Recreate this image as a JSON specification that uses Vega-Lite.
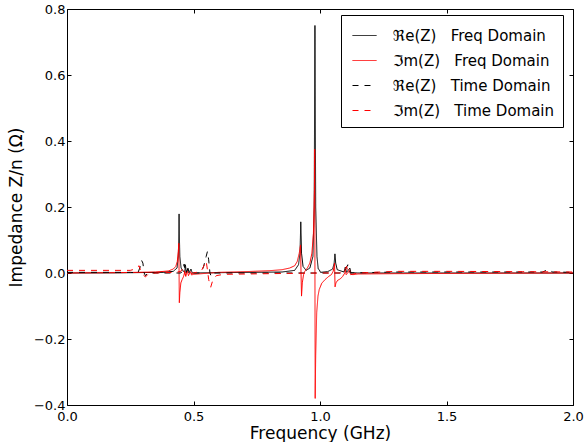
{
  "$schema": "https://vega.github.io/schema/vega-lite/v6.json",
  "width": 506,
  "height": 396,
  "autosize": {"type": "none"},
  "padding": {"left": 67, "top": 9, "right": 14, "bottom": 37},
  "background": "white",
  "config": {
    "view": {"stroke": "black", "strokeWidth": 1},
    "font": "DejaVu Sans",
    "axis": {"labelFont": "DejaVu Sans", "titleFont": "DejaVu Sans", "labelColor": "black", "titleColor": "black", "grid": false, "domain": false, "tickColor": "black", "tickSize": -4, "labelFontSize": 13, "titleFontSize": 17, "titleFontWeight": "normal", "labelFlush": false, "labelOverlap": false}
  },
  "datasets": {
    "ref": [
      {"f": 0, "v": 0.0, "s": "ReF"}, {"f": 0.2, "v": 0.0005, "s": "ReF"}, {"f": 0.38, "v": 0.002, "s": "ReF"},
      {"f": 0.42, "v": 0.005, "s": "ReF"}, {"f": 0.435, "v": 0.015, "s": "ReF"}, {"f": 0.44, "v": 0.05, "s": "ReF"},
      {"f": 0.442, "v": 0.12, "s": "ReF"}, {"f": 0.443, "v": 0.179, "s": "ReF"}, {"f": 0.444, "v": 0.12, "s": "ReF"},
      {"f": 0.446, "v": 0.05, "s": "ReF"}, {"f": 0.451, "v": 0.015, "s": "ReF"}, {"f": 0.46, "v": 0.005, "s": "ReF"},
      {"f": 0.466, "v": 0.004, "s": "ReF"}, {"f": 0.468, "v": 0.025, "s": "ReF"}, {"f": 0.472, "v": 0.0, "s": "ReF"},
      {"f": 0.478, "v": 0.015, "s": "ReF"}, {"f": 0.482, "v": 0.0, "s": "ReF"}, {"f": 0.49, "v": 0.012, "s": "ReF"},
      {"f": 0.495, "v": 0.0, "s": "ReF"}, {"f": 0.6, "v": 0.001, "s": "ReF"}, {"f": 0.85, "v": 0.003, "s": "ReF"},
      {"f": 0.9, "v": 0.008, "s": "ReF"}, {"f": 0.915, "v": 0.025, "s": "ReF"}, {"f": 0.921, "v": 0.06, "s": "ReF"},
      {"f": 0.924, "v": 0.155, "s": "ReF"}, {"f": 0.927, "v": 0.06, "s": "ReF"}, {"f": 0.933, "v": 0.02, "s": "ReF"},
      {"f": 0.945, "v": 0.008, "s": "ReF"}, {"f": 0.96, "v": 0.015, "s": "ReF"}, {"f": 0.972, "v": 0.05, "s": "ReF"},
      {"f": 0.977, "v": 0.2, "s": "ReF"}, {"f": 0.98, "v": 0.75, "s": "ReF"}, {"f": 0.983, "v": 0.2, "s": "ReF"},
      {"f": 0.988, "v": 0.05, "s": "ReF"}, {"f": 0.993, "v": 0.012, "s": "ReF"}, {"f": 0.997, "v": 0.01, "s": "ReF"},
      {"f": 1.002, "v": 0.002, "s": "ReF"}, {"f": 1.03, "v": 0.004, "s": "ReF"}, {"f": 1.05, "v": 0.012, "s": "ReF"},
      {"f": 1.056, "v": 0.03, "s": "ReF"}, {"f": 1.059, "v": 0.058, "s": "ReF"}, {"f": 1.062, "v": 0.03, "s": "ReF"},
      {"f": 1.068, "v": 0.01, "s": "ReF"}, {"f": 1.095, "v": 0.003, "s": "ReF"}, {"f": 1.1, "v": 0.018, "s": "ReF"},
      {"f": 1.105, "v": 0.002, "s": "ReF"}, {"f": 1.118, "v": 0.015, "s": "ReF"}, {"f": 1.122, "v": 0.001, "s": "ReF"},
      {"f": 1.15, "v": 0.0, "s": "ReF"}, {"f": 2.0, "v": 0.0, "s": "ReF"}
    ],
    "imf": [
      {"f": 0, "v": 0.0, "s": "ImF"}, {"f": 0.2, "v": 0.001, "s": "ImF"}, {"f": 0.35, "v": 0.003, "s": "ImF"},
      {"f": 0.4, "v": 0.006, "s": "ImF"}, {"f": 0.42, "v": 0.012, "s": "ImF"}, {"f": 0.43, "v": 0.02, "s": "ImF"},
      {"f": 0.436, "v": 0.035, "s": "ImF"}, {"f": 0.44, "v": 0.065, "s": "ImF"}, {"f": 0.442, "v": 0.09, "s": "ImF"},
      {"f": 0.443, "v": 0.0, "s": "ImF"}, {"f": 0.444, "v": -0.09, "s": "ImF"}, {"f": 0.446, "v": -0.06, "s": "ImF"},
      {"f": 0.45, "v": -0.03, "s": "ImF"}, {"f": 0.455, "v": -0.02, "s": "ImF"}, {"f": 0.46, "v": -0.012, "s": "ImF"},
      {"f": 0.466, "v": 0.004, "s": "ImF"}, {"f": 0.469, "v": -0.01, "s": "ImF"}, {"f": 0.476, "v": 0.006, "s": "ImF"},
      {"f": 0.48, "v": -0.008, "s": "ImF"}, {"f": 0.488, "v": 0.004, "s": "ImF"}, {"f": 0.492, "v": -0.006, "s": "ImF"},
      {"f": 0.5, "v": -0.004, "s": "ImF"}, {"f": 0.55, "v": -0.001, "s": "ImF"}, {"f": 0.6, "v": 0.002, "s": "ImF"},
      {"f": 0.7, "v": 0.004, "s": "ImF"}, {"f": 0.8, "v": 0.007, "s": "ImF"}, {"f": 0.85, "v": 0.01, "s": "ImF"},
      {"f": 0.88, "v": 0.015, "s": "ImF"}, {"f": 0.9, "v": 0.022, "s": "ImF"}, {"f": 0.91, "v": 0.035, "s": "ImF"},
      {"f": 0.918, "v": 0.06, "s": "ImF"}, {"f": 0.923, "v": 0.085, "s": "ImF"}, {"f": 0.925, "v": 0.0, "s": "ImF"},
      {"f": 0.927, "v": -0.07, "s": "ImF"}, {"f": 0.93, "v": -0.03, "s": "ImF"}, {"f": 0.935, "v": -0.005, "s": "ImF"},
      {"f": 0.94, "v": 0.005, "s": "ImF"}, {"f": 0.95, "v": 0.015, "s": "ImF"}, {"f": 0.96, "v": 0.03, "s": "ImF"},
      {"f": 0.968, "v": 0.06, "s": "ImF"}, {"f": 0.974, "v": 0.12, "s": "ImF"}, {"f": 0.978, "v": 0.25, "s": "ImF"},
      {"f": 0.979, "v": 0.375, "s": "ImF"}, {"f": 0.98, "v": 0.0, "s": "ImF"}, {"f": 0.981, "v": -0.38, "s": "ImF"},
      {"f": 0.983, "v": -0.25, "s": "ImF"}, {"f": 0.987, "v": -0.12, "s": "ImF"}, {"f": 0.992, "v": -0.07, "s": "ImF"},
      {"f": 0.997, "v": -0.05, "s": "ImF"}, {"f": 1.007, "v": -0.031, "s": "ImF"}, {"f": 1.02, "v": -0.02, "s": "ImF"},
      {"f": 1.035, "v": -0.01, "s": "ImF"}, {"f": 1.045, "v": -0.005, "s": "ImF"}, {"f": 1.052, "v": 0.005, "s": "ImF"},
      {"f": 1.056, "v": 0.02, "s": "ImF"}, {"f": 1.0575, "v": 0.03, "s": "ImF"}, {"f": 1.0595, "v": -0.042, "s": "ImF"},
      {"f": 1.063, "v": -0.03, "s": "ImF"}, {"f": 1.07, "v": -0.022, "s": "ImF"}, {"f": 1.08, "v": -0.018, "s": "ImF"},
      {"f": 1.09, "v": -0.01, "s": "ImF"}, {"f": 1.098, "v": 0.0, "s": "ImF"}, {"f": 1.1, "v": 0.012, "s": "ImF"},
      {"f": 1.103, "v": -0.005, "s": "ImF"}, {"f": 1.11, "v": 0.0, "s": "ImF"}, {"f": 1.117, "v": 0.01, "s": "ImF"},
      {"f": 1.12, "v": -0.003, "s": "ImF"}, {"f": 1.13, "v": -0.005, "s": "ImF"}, {"f": 1.15, "v": -0.003, "s": "ImF"},
      {"f": 1.3, "v": -0.002, "s": "ImF"}, {"f": 1.6, "v": -0.001, "s": "ImF"}, {"f": 2.0, "v": 0.0, "s": "ImF"}
    ],
    "ret": [
      {"f": 0, "v": 0.002, "s": "ReT"}, {"f": 0.25, "v": 0.002, "s": "ReT"}, {"f": 0.28, "v": 0.0, "s": "ReT"},
      {"f": 0.29, "v": 0.02, "s": "ReT"}, {"f": 0.295, "v": 0.038, "s": "ReT"}, {"f": 0.3, "v": 0.03, "s": "ReT"},
      {"f": 0.305, "v": 0.0, "s": "ReT"}, {"f": 0.31, "v": -0.008, "s": "ReT"}, {"f": 0.32, "v": 0.0, "s": "ReT"},
      {"f": 0.45, "v": 0.0, "s": "ReT"}, {"f": 0.46, "v": 0.01, "s": "ReT"}, {"f": 0.463, "v": 0.027, "s": "ReT"},
      {"f": 0.468, "v": 0.0, "s": "ReT"}, {"f": 0.478, "v": 0.012, "s": "ReT"}, {"f": 0.485, "v": 0.0, "s": "ReT"},
      {"f": 0.53, "v": 0.0, "s": "ReT"}, {"f": 0.54, "v": 0.02, "s": "ReT"}, {"f": 0.55, "v": 0.05, "s": "ReT"},
      {"f": 0.555, "v": 0.065, "s": "ReT"}, {"f": 0.56, "v": 0.04, "s": "ReT"}, {"f": 0.565, "v": 0.0, "s": "ReT"},
      {"f": 0.57, "v": -0.01, "s": "ReT"}, {"f": 0.58, "v": 0.0, "s": "ReT"}, {"f": 1.08, "v": 0.0, "s": "ReT"},
      {"f": 1.1, "v": 0.01, "s": "ReT"}, {"f": 1.11, "v": 0.025, "s": "ReT"}, {"f": 1.115, "v": 0.01, "s": "ReT"},
      {"f": 1.12, "v": 0.0, "s": "ReT"}, {"f": 1.3, "v": 0.003, "s": "ReT"}, {"f": 1.88, "v": 0.003, "s": "ReT"},
      {"f": 1.9, "v": 0.01, "s": "ReT"}, {"f": 1.92, "v": 0.003, "s": "ReT"}, {"f": 2.0, "v": 0.002, "s": "ReT"}
    ],
    "imt": [
      {"f": 0, "v": 0.008, "s": "ImT"}, {"f": 0.25, "v": 0.008, "s": "ImT"}, {"f": 0.27, "v": 0.012, "s": "ImT"},
      {"f": 0.285, "v": 0.022, "s": "ImT"}, {"f": 0.29, "v": 0.01, "s": "ImT"}, {"f": 0.3, "v": -0.005, "s": "ImT"},
      {"f": 0.31, "v": -0.012, "s": "ImT"}, {"f": 0.32, "v": -0.004, "s": "ImT"}, {"f": 0.35, "v": 0.0, "s": "ImT"},
      {"f": 0.43, "v": 0.002, "s": "ImT"}, {"f": 0.45, "v": 0.005, "s": "ImT"}, {"f": 0.46, "v": 0.018, "s": "ImT"},
      {"f": 0.465, "v": 0.0, "s": "ImT"}, {"f": 0.47, "v": -0.01, "s": "ImT"}, {"f": 0.48, "v": -0.003, "s": "ImT"},
      {"f": 0.5, "v": 0.0, "s": "ImT"}, {"f": 0.53, "v": 0.005, "s": "ImT"}, {"f": 0.54, "v": 0.02, "s": "ImT"},
      {"f": 0.55, "v": 0.036, "s": "ImT"}, {"f": 0.555, "v": 0.01, "s": "ImT"}, {"f": 0.56, "v": -0.02, "s": "ImT"},
      {"f": 0.568, "v": -0.043, "s": "ImT"}, {"f": 0.575, "v": -0.025, "s": "ImT"}, {"f": 0.59, "v": -0.008, "s": "ImT"},
      {"f": 0.62, "v": -0.004, "s": "ImT"}, {"f": 0.8, "v": -0.002, "s": "ImT"}, {"f": 1.0, "v": 0.0, "s": "ImT"},
      {"f": 1.08, "v": 0.0, "s": "ImT"}, {"f": 1.1, "v": 0.012, "s": "ImT"}, {"f": 1.105, "v": 0.02, "s": "ImT"},
      {"f": 1.11, "v": 0.005, "s": "ImT"}, {"f": 1.12, "v": -0.005, "s": "ImT"}, {"f": 1.15, "v": 0.0, "s": "ImT"},
      {"f": 1.3, "v": 0.005, "s": "ImT"}, {"f": 1.5, "v": 0.005, "s": "ImT"}, {"f": 1.8, "v": 0.004, "s": "ImT"},
      {"f": 2.0, "v": 0.003, "s": "ImT"}
    ]
  },
  "layer": [
    {
      "encoding": {
        "x": {"field": "f", "type": "quantitative", "scale": {"domain": [0, 2], "nice": false, "zero": false}, "axis": {"orient": "bottom", "title": "Frequency (GHz)", "values": [0, 0.5, 1, 1.5, 2], "format": ".1f", "labelPadding": 9, "titlePadding": 2}},
        "y": {"field": "v", "type": "quantitative", "scale": {"domain": [-0.4, 0.8], "nice": false, "zero": false}, "axis": {"orient": "left", "title": "Impedance Z/n (Ω)", "values": [-0.4, -0.2, 0, 0.2, 0.4, 0.6, 0.8], "format": ".1f", "labelPadding": 6, "titlePadding": 8}},
        "color": {"field": "s", "type": "nominal", "scale": {"domain": ["ReF", "ImF", "ReT", "ImT"], "range": ["black", "red", "black", "red"]},
          "legend": {"title": null, "orient": "none", "legendX": 274, "legendY": 6, "symbolType": "stroke", "symbolSize": 576, "symbolStrokeWidth": 1, "symbolOffset": 3, "labelFontSize": 15, "labelFont": "DejaVu Sans", "labelColor": "black", "labelLimit": 300, "strokeColor": "black", "fillColor": "white", "padding": 8, "rowPadding": 4, "labelOffset": 16, "cornerRadius": 0,
            "labelExpr": "datum.label == 'ReF' ? 'ℜe(Z)\u00a0\u00a0 Freq Domain' : datum.label == 'ImF' ? 'ℑm(Z)\u00a0\u00a0 Freq Domain' : datum.label == 'ReT' ? 'ℜe(Z)\u00a0\u00a0 Time Domain' : 'ℑm(Z)\u00a0\u00a0 Time Domain'"}},
        "strokeDash": {"field": "s", "type": "nominal", "scale": {"domain": ["ReF", "ImF", "ReT", "ImT"], "range": [[1, 0], [1, 0], [6, 6], [6, 6]]},
          "legend": {"title": null, "orient": "none", "legendX": 274, "legendY": 6, "symbolType": "stroke", "symbolSize": 576, "symbolStrokeWidth": 1, "symbolOffset": 3, "labelFontSize": 15, "labelFont": "DejaVu Sans", "labelColor": "black", "labelLimit": 300, "strokeColor": "black", "fillColor": "white", "padding": 8, "rowPadding": 4, "labelOffset": 16, "cornerRadius": 0,
            "labelExpr": "datum.label == 'ReF' ? 'ℜe(Z)\u00a0\u00a0 Freq Domain' : datum.label == 'ImF' ? 'ℑm(Z)\u00a0\u00a0 Freq Domain' : datum.label == 'ReT' ? 'ℜe(Z)\u00a0\u00a0 Time Domain' : 'ℑm(Z)\u00a0\u00a0 Time Domain'"}}
      },
      "layer": [
        {"data": {"name": "ref"}, "mark": {"type": "line", "strokeWidth": 1, "clip": true}},
        {"data": {"name": "imf"}, "mark": {"type": "line", "strokeWidth": 1, "clip": true}},
        {"data": {"name": "ret"}, "mark": {"type": "line", "strokeWidth": 1, "clip": true}},
        {"data": {"name": "imt"}, "mark": {"type": "line", "strokeWidth": 1, "clip": true}}
      ]
    },
    {"data": {"name": "ref"}, "mark": {"type": "point", "opacity": 0},
      "encoding": {
        "x": {"field": "f", "type": "quantitative", "scale": {"domain": [0, 2], "nice": false, "zero": false}, "axis": {"orient": "top", "labels": false, "title": null, "values": [0, 0.5, 1, 1.5, 2]}},
        "y": {"field": "v", "type": "quantitative", "scale": {"domain": [-0.4, 0.8], "nice": false, "zero": false}, "axis": {"orient": "right", "labels": false, "title": null, "values": [-0.4, -0.2, 0, 0.2, 0.4, 0.6, 0.8]}}
      }}
  ],
  "resolve": {"axis": {"x": "independent", "y": "independent"}}
}
